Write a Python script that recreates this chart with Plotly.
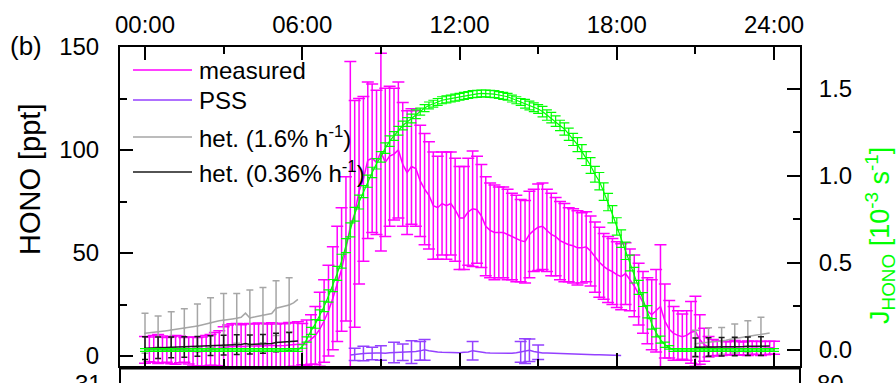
import numpy as np
import plotly.graph_objects as go

# ---------------- data ----------------
hours = (np.arange(145) / 6.0).round(4).tolist()          # 10-min time grid, 00:00 .. 24:00
hour_ticks = [0, 6, 12, 18, 24]
hour_labels = ["00:00", "06:00", "12:00", "18:00", "24:00"]
hono_ticks = [0, 50, 100, 150]
j_ticks = [0, 0.5, 1.0, 1.5]
j_labels = ["0.0", "0.5", "1.0", "1.5"]

measured = [
    3.0, 3.2, 3.5, 3.4, 3.2, 3.0, 2.8, 3.0, 3.2, 3.0, 2.6, 2.2,
    2.0, 2.2, 2.5, 3.0, 3.4, 3.8, 4.2, 4.5, 4.6, 4.8, 4.7, 4.6,
    4.8, 5.0, 5.0, 4.8, 5.0, 5.2, 5.0, 4.9, 5.1, 5.3, 5.5, 5.6,
    5.8, 6.5, 8.0, 10.0, 13.0, 17.0, 22.0, 28.0, 35.0, 42.0, 52.0, 63.0,
    69.0, 80.0, 86.0, 95.0, 96.0, 94.0, 99.0, 94.0, 97.0, 98.0, 100.0, 93.0,
    89.0, 92.0, 91.0, 85.0, 81.0, 78.0, 73.0, 72.0, 74.0, 73.0, 74.0, 71.0,
    67.0, 67.0, 70.0, 71.5, 71.0, 68.0, 63.0, 61.0, 60.0, 60.0, 60.0, 59.0,
    58.0, 57.0, 56.0, 55.5, 59.0, 61.0, 62.5, 63.0, 61.0, 59.0, 58.0, 56.0,
    55.0, 54.0, 53.5, 52.5, 52.5, 53.0, 51.0, 48.0, 45.5, 43.5, 42.0, 41.0,
    39.5, 38.5, 40.0, 37.0, 34.0, 30.0, 26.0, 22.0, 20.0, 22.0, 24.0, 17.0,
    13.0, 11.0, 10.0, 9.4, 10.0, 11.5, 12.0, 8.0, 5.5, 4.5, 4.0, 3.8,
    3.8, 3.7, 3.9, 4.0, 3.8, 3.6, 3.8, 4.0, 3.9, 3.7, 3.8, 4.0,
    4.0,
]
measured_err = [
    6.5, 6.0, 6.5, 7.0, 6.5, 6.0, 6.5, 7.0, 6.5, 6.0, 6.5, 7.0,
    7.0, 7.0, 7.5, 7.5, 8.0, 8.5, 10.0, 10.5, 11.0, 11.0, 10.5, 11.0,
    11.0, 10.5, 11.0, 11.0, 10.5, 11.0, 10.5, 11.0, 10.5, 11.0, 10.5, 11.0,
    10.0, 11.0, 12.0, 14.0, 18.0, 20.0, 22.0, 25.0, 28.0, 30.0, 35.0, 80.0,
    55.0, 45.0, 40.0, 38.0, 36.0, 35.0, 48.0, 36.0, 34.0, 32.0, 33.0, 30.0,
    30.0, 28.0, 28.0, 27.0, 27.0, 26.0, 26.0, 25.0, 25.0, 26.0, 25.0, 25.0,
    25.0, 25.0, 26.0, 28.0, 26.0, 25.0, 24.0, 23.0, 23.0, 22.0, 22.0, 22.0,
    21.0, 21.0, 20.0, 20.0, 21.0, 20.0, 21.0, 21.0, 20.0, 20.0, 19.0, 19.0,
    19.0, 18.0, 18.0, 18.0, 17.0, 17.0, 17.0, 17.0, 17.0, 16.0, 16.0, 16.0,
    16.0, 16.0, 15.0, 15.0, 15.0, 15.0, 15.0, 16.0, 17.0, 20.0, 30.0, 18.0,
    14.0, 13.0, 12.0, 11.0, 12.0, 15.0, 17.0, 12.0, 8.0, 5.0, 4.0, 3.5,
    3.5, 3.2, 3.2, 3.5, 3.2, 3.2, 3.5, 3.2, 3.2, 3.5, 3.2, 3.2,
    3.2,
]

j_hono = [
    0.0, 0.0, 0.0, 0.0, 0.0, 0.0, 0.0, 0.0, 0.0, 0.0, 0.0, 0.0,
    0.0, 0.0, 0.0, 0.0, 0.0, 0.0, 0.0, 0.0, 0.0, 0.0, 0.0, 0.0,
    0.0, 0.0, 0.0, 0.0, 0.0, 0.0, 0.0, 0.0, 0.0, 0.0, 0.0, 0.0,
    0.02, 0.06, 0.11, 0.15, 0.20, 0.25, 0.31, 0.37, 0.44, 0.51, 0.60, 0.69,
    0.78, 0.85, 0.91, 0.97, 1.02, 1.07, 1.11, 1.16, 1.20, 1.23, 1.26, 1.29,
    1.31, 1.33, 1.355, 1.37, 1.39, 1.405, 1.415, 1.425, 1.435, 1.44, 1.445, 1.45,
    1.455, 1.46, 1.465, 1.47, 1.472, 1.474, 1.474, 1.472, 1.47, 1.465, 1.46, 1.455,
    1.445, 1.435, 1.425, 1.415, 1.405, 1.395, 1.385, 1.37, 1.35, 1.335, 1.315, 1.29,
    1.27, 1.24, 1.21, 1.18, 1.14, 1.10, 1.06, 1.01, 0.97, 0.91, 0.85, 0.78,
    0.71, 0.64, 0.57, 0.50, 0.43, 0.36, 0.29, 0.22, 0.15, 0.10, 0.06, 0.03,
    0.015, 0.0, 0.0, 0.0, 0.0, 0.0, 0.0, 0.0, 0.0, 0.0, 0.0, 0.0,
    0.0, 0.0, 0.0, 0.0, 0.0, 0.0, 0.0, 0.0, 0.0, 0.0, 0.0, 0.0,
    0.0,
]
j_hono_err = [
    0.008, 0.008, 0.008, 0.008, 0.008, 0.008, 0.008, 0.008, 0.008, 0.008, 0.008, 0.008,
    0.008, 0.008, 0.008, 0.008, 0.008, 0.008, 0.008, 0.008, 0.008, 0.008, 0.008, 0.008,
    0.008, 0.008, 0.008, 0.008, 0.008, 0.008, 0.008, 0.008, 0.008, 0.008, 0.008, 0.008,
    0.01, 0.015, 0.02, 0.025, 0.03, 0.03, 0.035, 0.035, 0.04, 0.04, 0.04, 0.04,
    0.04, 0.04, 0.035, 0.035, 0.03, 0.03, 0.03, 0.03, 0.03, 0.025, 0.025, 0.025,
    0.025, 0.025, 0.025, 0.02, 0.02, 0.02, 0.02, 0.02, 0.02, 0.02, 0.02, 0.02,
    0.02, 0.02, 0.02, 0.02, 0.02, 0.02, 0.02, 0.02, 0.02, 0.02, 0.02, 0.02,
    0.02, 0.02, 0.02, 0.025, 0.025, 0.025, 0.025, 0.03, 0.03, 0.03, 0.03, 0.03,
    0.035, 0.035, 0.035, 0.04, 0.04, 0.04, 0.045, 0.045, 0.05, 0.05, 0.05, 0.05,
    0.05, 0.05, 0.05, 0.045, 0.045, 0.04, 0.04, 0.035, 0.03, 0.025, 0.02, 0.015,
    0.01, 0.008, 0.008, 0.008, 0.008, 0.008, 0.008, 0.008, 0.008, 0.008, 0.008, 0.008,
    0.008, 0.008, 0.008, 0.008, 0.008, 0.008, 0.008, 0.008, 0.008, 0.008, 0.008, 0.008,
    0.008,
]

# PSS: 07:50 .. 18:10 (10-min)
pss_hours = hours[47:110]
pss = [
    0.5, 0.8, 1.0, 1.2, 1.3, 1.2, 1.4, 1.5, 1.3, 1.6, 1.7, 1.5, 1.8,
    2.0, 1.9, 2.2, 2.5, 3.0, 2.6, 2.2, 2.0, 1.8, 1.7, 1.6, 1.5,
    1.6, 1.8, 2.0, 2.6, 2.2, 1.8, 1.6, 1.5, 1.4, 1.3, 1.3, 1.2,
    1.3, 1.6, 2.0, 2.4, 2.8, 2.2, 1.8, 1.5, 1.4, 1.3, 1.2, 1.1,
    1.0, 0.9, 0.9, 0.8, 0.8, 0.7, 0.7, 0.6, 0.6, 0.5, 0.5, 0.4,
    0.4, 0.3,
]
pss_bar_hours = [8.0, 8.3333, 8.6667, 9.0, 9.5, 9.8333, 10.1667, 10.5, 10.6667,
                 12.5, 14.3333, 14.5, 14.6667, 15.0]
pss_bar_err = [3.0, 3.5, 3.0, 3.5, 5.0, 4.0, 5.5, 4.5, 5.0, 4.5, 5.0, 6.0, 5.5, 3.5]

# heterogeneous formation, night 1 (00:00 .. 05:50) and night 2 (21:00 .. 23:50)
het_am_hours = hours[0:36]
het16_am = [
    11.0, 11.2, 11.5, 11.8, 12.0, 12.3, 12.6, 12.9, 13.1, 13.4, 13.8, 14.2,
    14.6, 15.1, 15.7, 16.2, 16.6, 17.1, 17.5, 17.7, 18.0, 18.3, 18.8, 20.8,
    18.5, 18.9, 19.4, 19.8, 20.2, 20.6, 23.2, 23.8, 24.3, 24.8, 25.8, 27.5,
]
het036_am = [
    3.8, 3.8, 3.9, 4.0, 4.0, 4.1, 4.2, 4.3, 4.3, 4.4, 4.5, 4.6,
    4.7, 4.8, 4.9, 5.0, 5.1, 5.2, 5.3, 5.4, 5.4, 5.5, 5.6, 6.1,
    5.6, 5.7, 5.8, 5.9, 6.0, 6.1, 6.6, 6.7, 6.8, 6.9, 7.1, 7.3,
]
het16_am_err = [9.7, 7.6, 8.9, 9.6, 10.6, 12.1, 12.9, 12.1, 13.5, 13.4, 13.3, 13.2]
het036_am_err = [5.5, 5.2, 5.0, 5.0, 4.8, 4.8, 4.8, 4.8, 4.6, 4.6, 4.5, 4.5]

het_pm_hours = hours[126:144]
het16_pm = [6.0, 6.3, 6.5, 6.7, 6.9, 7.1, 7.3, 7.7, 8.1, 8.5, 8.8, 9.2,
            9.5, 9.8, 10.2, 10.5, 10.8, 11.2]
het036_pm = [4.3, 4.3, 4.3, 4.4, 4.4, 4.4, 4.5, 4.5, 4.5, 4.6, 4.6, 4.6,
             4.7, 4.7, 4.7, 4.8, 4.8, 4.8]
het16_pm_err = [6.5, 7.0, 6.5, 7.0, 7.6, 8.3]
het036_pm_err = [4.5, 4.5, 4.5, 4.5, 4.5, 4.5]

# ---------------- style ----------------
MAG = "#FF00FF"
PUR = "#9440FF"
GRY = "#A6A6A6"
BLK = "#1A1A1A"
GRN = "#00FF00"
FONT = "Liberation Sans, Arial, sans-serif"

W, H = 896, 383
L, R, T, B = 120, 800, 47, 366


def px(x):
    return (x - L) / (R - L)


def py(y):
    return (B - y) / (B - T)


fig = go.Figure()

fig.add_trace(go.Scatter(
    x=hours, y=measured, mode="lines", line=dict(color=MAG, width=1.5),
    error_y=dict(type="data", array=measured_err, color=MAG, thickness=1.5, width=6),
    showlegend=False))

pss_bar_y = [pss[int(round((h - pss_hours[0]) * 6))] for h in pss_bar_hours]
fig.add_trace(go.Scatter(
    x=pss_hours, y=pss, mode="lines", line=dict(color=PUR, width=1.5), showlegend=False))
fig.add_trace(go.Scatter(
    x=pss_bar_hours, y=pss_bar_y, mode="markers", marker=dict(size=1, color=PUR),
    error_y=dict(type="data", array=pss_bar_err, color=PUR, thickness=1.5, width=6),
    showlegend=False))

for hx, yv, err, col, w in [
    (het_am_hours, het16_am, het16_am_err, GRY, 3.5),
    (het_pm_hours, het16_pm, het16_pm_err, GRY, 3.5),
    (het_am_hours, het036_am, het036_am_err, BLK, 3.0),
    (het_pm_hours, het036_pm, het036_pm_err, BLK, 3.0),
]:
    fig.add_trace(go.Scatter(x=hx, y=yv, mode="lines", line=dict(color=col, width=1.5),
                             showlegend=False))
    fig.add_trace(go.Scatter(x=hx[::3], y=yv[::3], mode="markers",
                             marker=dict(size=2, color=col),
                             error_y=dict(type="data", array=err, color=col,
                                          thickness=1.5, width=w),
                             showlegend=False))

fig.add_trace(go.Scatter(
    x=hours, y=j_hono, mode="lines", yaxis="y2", line=dict(color=GRN, width=1.2),
    error_y=dict(type="data", array=j_hono_err, color=GRN, thickness=1.2, width=5),
    showlegend=False))

axis_common = dict(showline=True, linewidth=2, linecolor="black", ticks="inside",
                   ticklen=13, tickwidth=2, tickcolor="black", showgrid=False,
                   zeroline=False, automargin=False,
                   tickfont=dict(family=FONT, size=24, color="black"))

fig.update_layout(
    width=W, height=H, autosize=False, showlegend=False,
    margin=dict(l=L, r=W - R, t=T, b=H - B, pad=0),
    paper_bgcolor="white", plot_bgcolor="white",
    font=dict(family=FONT, color="black"),
    xaxis=dict(range=[-0.954, 24.99], side="top", mirror="ticks",
               tickmode="array", tickvals=hour_ticks, ticktext=hour_labels,
               ticklabelstandoff=2,
               minor=dict(tickmode="array", tickvals=[3, 9, 15, 21], ticks="inside",
                          ticklen=7, tickwidth=2, tickcolor="black"),
               **axis_common),
    yaxis=dict(range=[-4.85, 150], tickmode="array", tickvals=hono_ticks,
               ticklabelstandoff=14,
               minor=dict(tickmode="array", tickvals=[25, 75, 125], ticks="inside",
                          ticklen=7, tickwidth=2, tickcolor="black"),
               **axis_common),
    yaxis2=dict(range=[-0.092, 1.741], overlaying="y", side="right",
                tickmode="array", tickvals=j_ticks, ticktext=j_labels,
                ticklabelstandoff=12,
                minor=dict(tickmode="array", tickvals=[0.25, 0.75, 1.25], ticks="inside",
                           ticklen=7, tickwidth=2, tickcolor="black"),
                **axis_common),
)

ann = []
ann.append(dict(text="(b)", x=px(8), y=py(46), xref="paper", yref="paper",
                xanchor="left", yanchor="middle", showarrow=False,
                font=dict(family=FONT, size=26, color="black")))
ann.append(dict(text="HONO [ppt]", x=px(30), y=py(179), xref="paper", yref="paper",
                xanchor="center", yanchor="middle", textangle=-90, showarrow=False,
                font=dict(family=FONT, size=29, color="black")))
ann.append(dict(text="J<sub>HONO</sub> [10<sup>-3</sup> s<sup>-1</sup>]",
                x=px(880), y=py(236), xref="paper", yref="paper",
                xanchor="center", yanchor="middle", textangle=-90, showarrow=False,
                font=dict(family=FONT, size=27, color=GRN)))

legend_rows = [("measured", MAG, 70), ("PSS", PUR, 100),
               ("het. (1.6% h<sup>-1</sup>)", GRY, 137),
               ("het. (0.36% h<sup>-1</sup>)", BLK, 172)]
shapes = []
for txt, col, yy in legend_rows:
    shapes.append(dict(type="line", xref="paper", yref="paper",
                       x0=px(133), x1=px(192), y0=py(yy), y1=py(yy),
                       line=dict(color=col, width=1.5)))
    ann.append(dict(text=txt, x=px(197), y=py(yy), xref="paper", yref="paper",
                    xanchor="left", yanchor="middle", showarrow=False,
                    font=dict(family=FONT, size=24, color="black")))

# top edge of the next panel (cropped in the figure)
shapes.append(dict(type="line", xref="paper", yref="paper", x0=px(L), x1=px(R),
                   y0=py(368.5), y1=py(368.5), line=dict(color="black", width=2)))
for xx in (L, R):
    shapes.append(dict(type="line", xref="paper", yref="paper", x0=px(xx), x1=px(xx),
                       y0=py(368), y1=py(390), line=dict(color="black", width=2)))
ann.append(dict(text="31", x=px(104), y=py(368), xref="paper", yref="paper",
                xanchor="right", yanchor="top", showarrow=False,
                font=dict(family=FONT, size=24, color="black")))
ann.append(dict(text="80", x=px(815), y=py(368), xref="paper", yref="paper",
                xanchor="left", yanchor="top", showarrow=False,
                font=dict(family=FONT, size=24, color="black")))

fig.update_layout(annotations=ann, shapes=shapes)
fig.write_html("out.html",
               config={"displayModeBar": False, "staticPlot": True},
               post_script="document.body.style.margin='0';"
                           "document.body.style.overflow='hidden';")
